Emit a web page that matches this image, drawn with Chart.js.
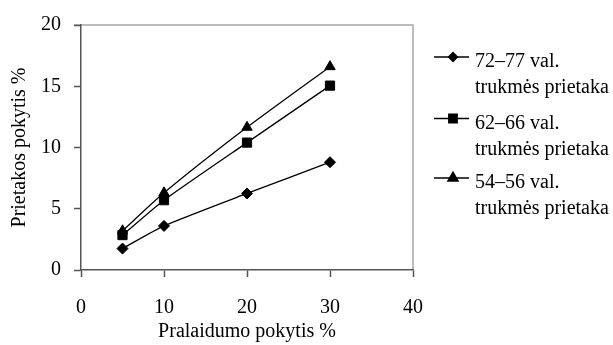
<!DOCTYPE html>
<html>
<head>
<meta charset="utf-8">
<script src="https://cdn.jsdelivr.net/npm/chart.js@4"></script>
<style>
  body { margin: 0; background: #fff; }
</style>
</head>
<body>
<canvas id="chart" width="613" height="345"></canvas>
<script>
// data
const xValues = [5, 10, 20, 30];
const val7277 = [1.75, 3.6, 6.25, 8.8];
const val6266 = [2.85, 5.7, 10.4, 15.05];
const val5456 = [3.2, 6.3, 11.65, 16.6];
const seriesLabels = [
  ["72–77 val.", "trukmės prietaka"],
  ["62–66 val.", "trukmės prietaka"],
  ["54–56 val.", "trukmės prietaka"],
];
const xTitle = "Pralaidumo pokytis %";
const yTitle = "Prietakos pokytis %";

const FONT = "'Liberation Serif', 'Times New Roman', serif";
const FS = 20;
const ctx = document.getElementById("chart").getContext("2d");

function points(vals) {
  return vals.map((v, i) => ({ x: xValues[i], y: v }));
}

// light grey frame round the plot (top / right edges)
const frame = {
  id: "frame",
  beforeDraw(chart) {
    const a = chart.chartArea;
    const c = chart.ctx;
    c.save();
    c.strokeStyle = "#a6a6a6";
    c.lineWidth = 1.5;
    c.beginPath();
    c.moveTo(a.left - 7, a.top);
    c.lineTo(a.right, a.top);
    c.lineTo(a.right, a.bottom);
    c.stroke();
    c.restore();
  },
};

// legend on the right, two lines per entry
const legendRows = [57, 118.5, 178];
const sideLegend = {
  id: "sideLegend",
  afterDraw(chart) {
    const c = chart.ctx;
    chart.data.datasets.forEach((ds, i) => {
      const y = legendRows[i];
      c.save();
      c.strokeStyle = "#000";
      c.fillStyle = "#000";
      c.lineWidth = 1.3;
      c.beginPath();
      c.moveTo(434, y);
      c.lineTo(469, y);
      c.stroke();
      Chart.helpers.drawPoint(c, { pointStyle: ds.pointStyle, radius: ds.legendRadius, borderWidth: 1, rotation: 0 }, 453, y);
      c.font = FS + "px " + FONT;
      c.textBaseline = "middle";
      c.textAlign = "left";
      seriesLabels[i].forEach((line, j) => c.fillText(line, 475, y + 5 + j * 26));
      c.restore();
    });
  },
};

function ds(vals, style, r, lr) {
  return {
    data: points(vals),
    borderColor: "#000",
    backgroundColor: "#000",
    borderWidth: 1.3,
    pointStyle: style,
    pointRadius: r,
    pointHoverRadius: r,
    pointBorderWidth: 1,
    legendRadius: lr,
    tension: 0.2,
  };
}

new Chart(ctx, {
  type: "line",
  data: {
    datasets: [
      ds(val7277, "rectRot", 5.5, 4.5),
      ds(val6266, "rect", 6.5, 6),
      ds(val5456, "triangle", 6, 6),
    ],
  },
  options: {
    responsive: false,
    animation: false,
    layout: { padding: { top: 18, right: 200, left: 0, bottom: 0 } },
    plugins: {
      legend: { display: false },
      tooltip: { enabled: false },
    },
    scales: {
      x: {
        type: "linear",
        min: 0,
        max: 40,
        afterFit: (s) => { s.height = 75; },
        border: { color: "#555", width: 1.5 },
        grid: { drawOnChartArea: false, tickLength: 7, tickColor: "#555", tickWidth: 1.5 },
        ticks: { stepSize: 10, color: "#000", padding: 19, font: { family: FONT, size: FS } },
        title: { display: true, text: xTitle, color: "#000", padding: { top: 0, bottom: 1 }, font: { family: FONT, size: FS } },
      },
      y: {
        min: 0,
        max: 20,
        afterFit: (s) => { s.width = 81; },
        border: { color: "#555", width: 1.5 },
        grid: { drawOnChartArea: false, tickLength: 7, tickColor: "#555", tickWidth: 1.5 },
        ticks: { stepSize: 5, color: "#000", padding: 13, font: { family: FONT, size: FS } },
        title: { display: true, text: yTitle, color: "#000", padding: { top: 8, bottom: 0 }, font: { family: FONT, size: FS } },
      },
    },
  },
  plugins: [frame, sideLegend],
});
</script>
</body>
</html>
